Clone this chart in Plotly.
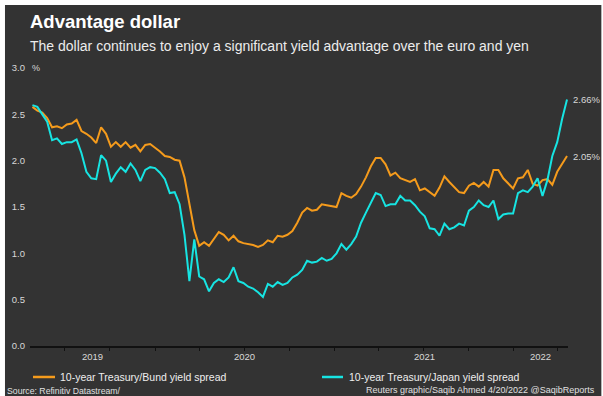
import pandas as pd
import plotly.graph_objects as go

# 10-day sampled spread series (percentage points), ending 20 Apr 2022
dates = pd.date_range(end="2022-04-20", periods=110, freq="10D")

bund_spread = [
    2.58, 2.54, 2.52, 2.46, 2.36, 2.37, 2.35, 2.39, 2.40, 2.44,
    2.32, 2.29, 2.25, 2.19, 2.36, 2.29, 2.15, 2.20, 2.15, 2.20,
    2.14, 2.17, 2.10, 2.17, 2.18, 2.14, 2.10, 2.05, 2.04, 2.01,
    2.00, 1.82, 1.55, 1.25, 1.08, 1.12, 1.08, 1.16, 1.23, 1.20,
    1.14, 1.19, 1.13, 1.11, 1.10, 1.09, 1.07, 1.09, 1.14, 1.12,
    1.19, 1.18, 1.20, 1.24, 1.33, 1.44, 1.49, 1.46, 1.47, 1.53,
    1.52, 1.51, 1.50, 1.65, 1.62, 1.60, 1.64, 1.72, 1.82, 1.94,
    2.03, 2.03, 1.96, 1.84, 1.87, 1.81, 1.79, 1.77, 1.80, 1.68,
    1.70, 1.66, 1.62, 1.71, 1.83, 1.77, 1.72, 1.66, 1.65, 1.73,
    1.76, 1.72, 1.77, 1.72, 1.90, 1.90, 1.81, 1.76, 1.70, 1.81,
    1.82, 1.90, 1.75, 1.73, 1.79, 1.80, 1.74, 1.88, 1.96, 2.05,
]

japan_spread = [
    2.60, 2.58, 2.50, 2.42, 2.22, 2.24, 2.18, 2.20, 2.20, 2.23,
    2.08, 1.88, 1.81, 1.80, 2.06, 2.00, 1.77, 1.86, 1.93, 1.88,
    1.97, 1.90, 1.78, 1.90, 1.93, 1.92, 1.87, 1.80, 1.65, 1.66,
    1.53, 1.20, 0.70, 1.15, 0.75, 0.72, 0.59, 0.68, 0.72, 0.69,
    0.74, 0.85, 0.70, 0.68, 0.64, 0.62, 0.58, 0.53, 0.67, 0.64,
    0.69, 0.66, 0.68, 0.74, 0.77, 0.82, 0.92, 0.90, 0.91, 0.95,
    0.92, 0.94, 1.00, 1.10, 1.04, 1.10, 1.18, 1.33, 1.44, 1.55,
    1.65, 1.63, 1.51, 1.53, 1.53, 1.62, 1.57, 1.57, 1.52, 1.45,
    1.40, 1.27, 1.26, 1.19, 1.32, 1.26, 1.28, 1.32, 1.30, 1.46,
    1.50, 1.57, 1.52, 1.50, 1.57, 1.37, 1.42, 1.43, 1.43, 1.65,
    1.68, 1.66, 1.72, 1.81, 1.62, 1.79, 2.05, 2.20, 2.45, 2.66,
]

series_names = ["10-year Treasury/Bund yield spread", "10-year Treasury/Japan yield spread"]
series_colors = ["#f59b1c", "#17e4e2"]

y_ticks = [0.0, 0.5, 1.0, 1.5, 2.0, 2.5, 3.0]
year_labels = ["2019", "2020", "2021", "2022"]
x_start, x_end = "2019-04-21", "2022-04-22"
quarter_ticks = pd.date_range("2019-07-01", "2022-04-01", freq="QS")

BG = "#333333"
FONT = "Liberation Sans, Arial, sans-serif"
TXT = "#d8d8d8"

fig = go.Figure()
for name, vals, col in zip(series_names, [bund_spread, japan_spread], series_colors):
    fig.add_trace(go.Scatter(
        x=dates, y=vals, mode="lines", name=name, showlegend=False,
        line=dict(color=col, width=2),
    ))

# latest-value labels at the right end of each line
for vals in (japan_spread, bund_spread):
    fig.add_annotation(
        x=dates[-1], y=vals[-1], xref="x", yref="y",
        text=f"{vals[-1]:.2f}%", showarrow=False,
        xanchor="left", yanchor="middle", xshift=4,
        font=dict(family=FONT, size=9.5, color=TXT),
    )

# year labels centred in each visible calendar year
bounds = ([pd.Timestamp(x_start)]
          + [pd.Timestamp(f"{y}-01-01") for y in year_labels[1:]]
          + [pd.Timestamp(x_end)])
for lab, a, b in zip(year_labels, bounds[:-1], bounds[1:]):
    fig.add_annotation(
        x=a + (b - a) / 2, y=-0.036, xref="x", yref="paper",
        text=lab, showarrow=False, xanchor="center", yanchor="middle",
        font=dict(family=FONT, size=9.5, color=TXT),
    )

# unit marker beside the top tick
fig.add_annotation(
    x=0, y=1.0, xref="paper", yref="paper", text="%", showarrow=False,
    xanchor="left", yanchor="middle",
    font=dict(family=FONT, size=9, color=TXT),
)

# legend row below the axis: short colour key followed by the series name
legend_keys = [(0.0056, 0.0465, 0.052), (0.5428, 0.5818, 0.589)]
for (k0, k1, tx), name, col in zip(legend_keys, series_names, series_colors):
    fig.add_shape(
        type="line", xref="paper", yref="paper",
        x0=k0, x1=k1, y0=-0.1115, y1=-0.1115,
        line=dict(color=col, width=2.5),
    )
    fig.add_annotation(
        x=tx, y=-0.1115, xref="paper", yref="paper", text=name,
        showarrow=False, xanchor="left", yanchor="middle",
        font=dict(family=FONT, size=10.5, color="#eeeeee"),
    )

# titles and credits
fig.add_annotation(
    x=-0.0037, y=1.168, xref="paper", yref="paper", text="<b>Advantage dollar</b>",
    showarrow=False, xanchor="left", yanchor="middle",
    font=dict(family=FONT, size=18.5, color="#ffffff"),
)
fig.add_annotation(
    x=-0.0037, y=1.078, xref="paper", yref="paper",
    text="The dollar continues to enjoy a significant yield advantage over the euro and yen",
    showarrow=False, xanchor="left", yanchor="middle",
    font=dict(family=FONT, size=14, color="#ececec"),
)
fig.add_annotation(
    x=-0.0465, y=-0.163, xref="paper", yref="paper", text="Source: Refinitiv Datastream/",
    showarrow=False, xanchor="left", yanchor="middle",
    font=dict(family=FONT, size=8.7, color="#e0e0e0"),
)
fig.add_annotation(
    x=1.053, y=-0.159, xref="paper", yref="paper",
    text="Reuters graphic/Saqib Ahmed 4/20/2022 @SaqibReports",
    showarrow=False, xanchor="right", yanchor="middle",
    font=dict(family=FONT, size=9, color="#e0e0e0"),
)

# dark panel behind the whole graphic
fig.add_shape(
    type="rect", xref="paper", yref="paper", layer="below",
    x0=-0.0465, x1=1.062, y0=-0.2, y1=1.2266,
    fillcolor=BG, line=dict(width=0),
)

fig.update_layout(
    width=603, height=396,
    margin=dict(l=30, r=35, t=68, b=50, autoexpand=False),
    paper_bgcolor="#ffffff", plot_bgcolor="rgba(0,0,0,0)",
    showlegend=False,
    xaxis=dict(
        type="date", range=[x_start, x_end],
        showgrid=False, zeroline=False,
        showline=True, linecolor="#111111", linewidth=1.5,
        ticks="outside", ticklen=3, tickwidth=1, tickcolor="#111111",
        tickvals=list(quarter_ticks), showticklabels=False,
    ),
    yaxis=dict(
        range=[0, 3], showgrid=False, zeroline=False, showline=False,
        tickvals=y_ticks, ticktext=[f"{v:.1f}" for v in y_ticks],
        ticks="", ticklabelstandoff=4,
        tickfont=dict(family=FONT, size=9.5, color=TXT),
    ),
)

fig.write_html("out.html")
